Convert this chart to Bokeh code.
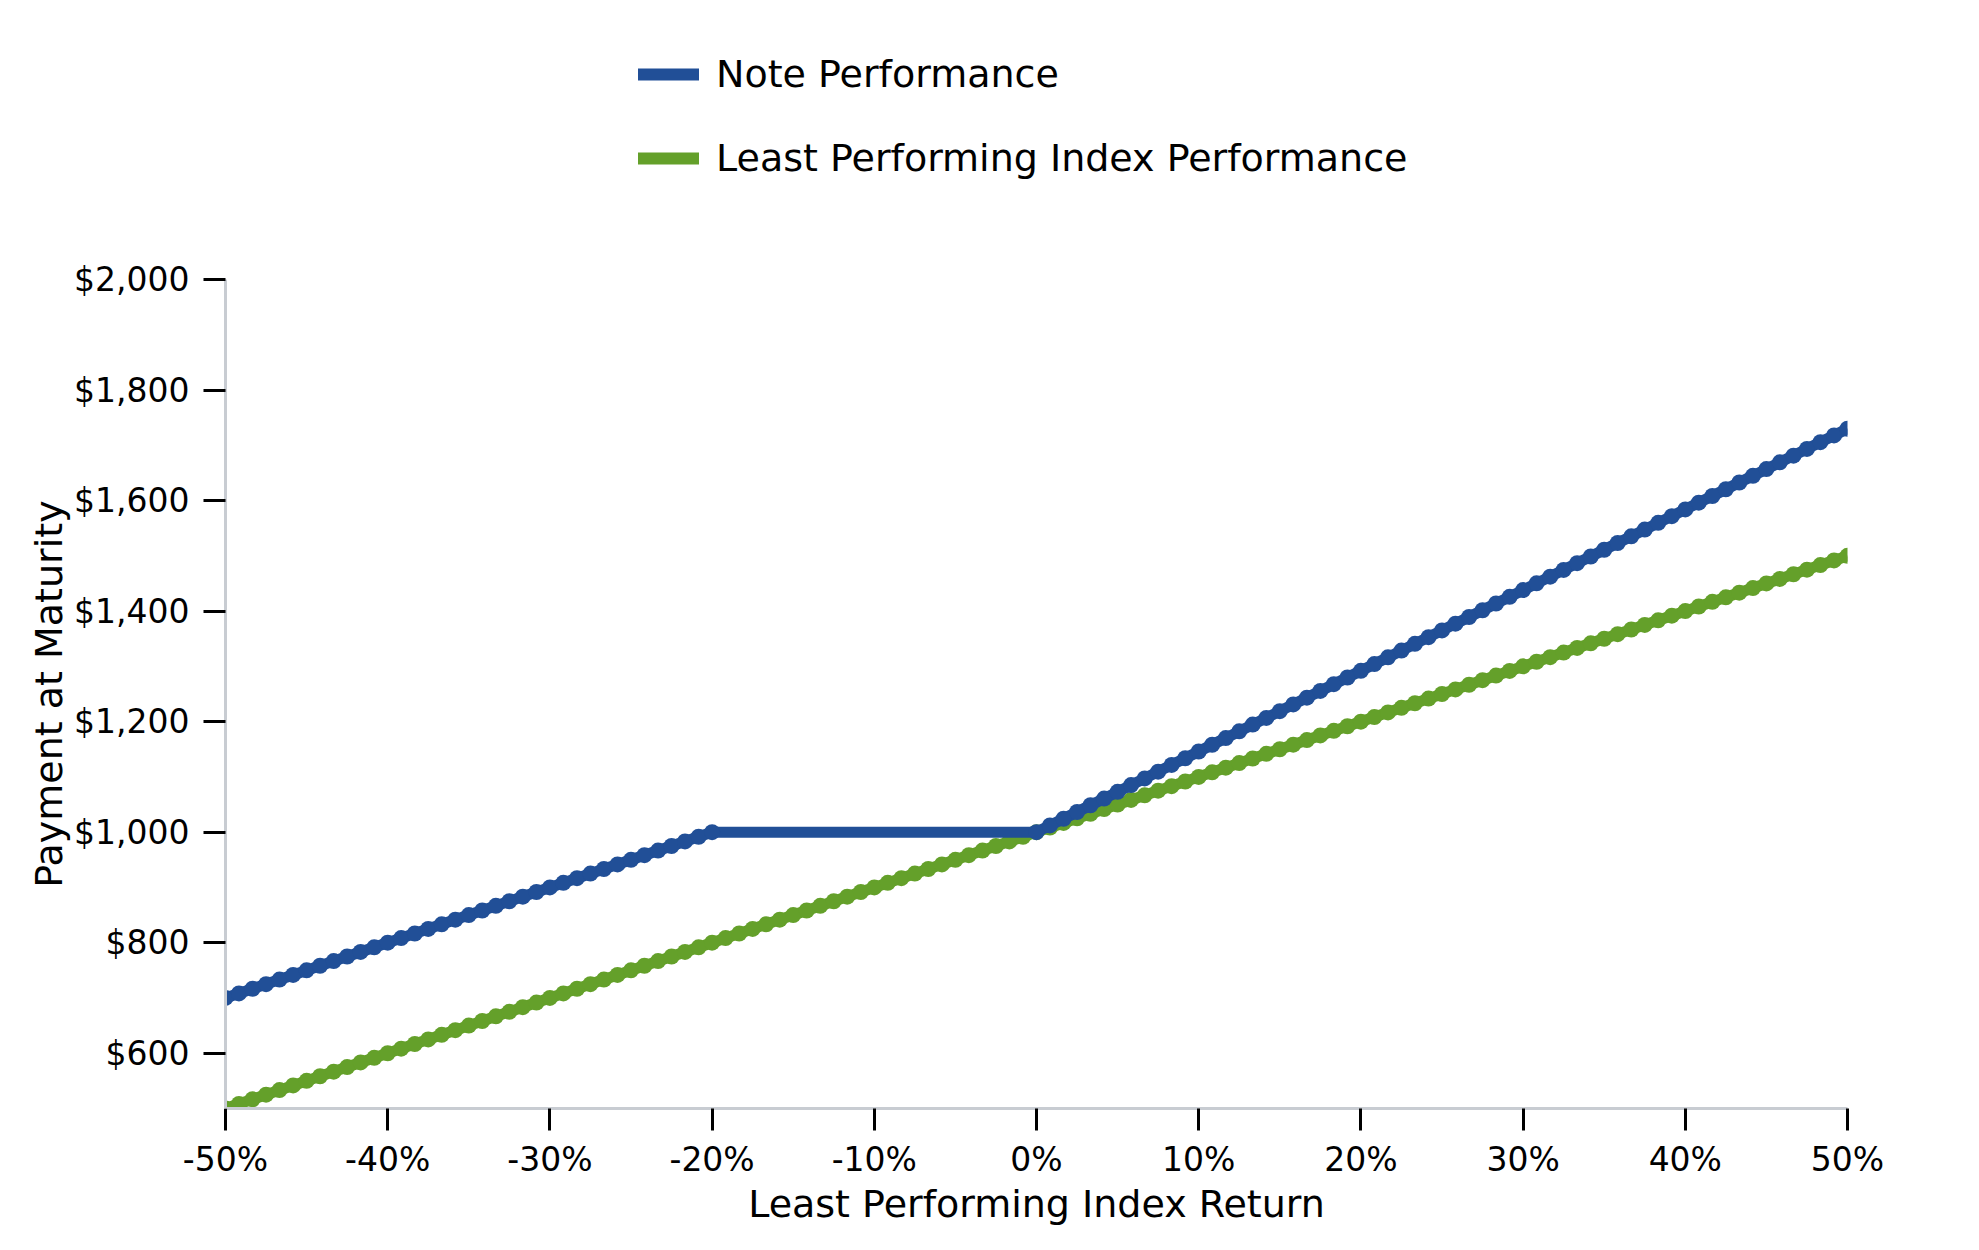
from bokeh.plotting import figure
from bokeh.layouts import column
from bokeh.models import (Range1d, FixedTicker, NumeralTickFormatter, PrintfTickFormatter,
                          Legend, LegendItem, ColumnDataSource)
from bokeh.embed import file_html
from bokeh.resources import INLINE

# Least performing index return (%)
index_return = [
    -50, -49.17, -48.33, -47.5, -46.67, -45.83, -45, -44.17, -43.33, -42.5, -41.67, -40.83,
    -40, -39.17, -38.33, -37.5, -36.67, -35.83, -35, -34.17, -33.33, -32.5, -31.67, -30.83,
    -30, -29.17, -28.33, -27.5, -26.67, -25.83, -25, -24.17, -23.33, -22.5, -21.67, -20.83,
    -20, -19.17, -18.33, -17.5, -16.67, -15.83, -15, -14.17, -13.33, -12.5, -11.67, -10.83,
    -10, -9.17, -8.33, -7.5, -6.67, -5.83, -5, -4.17, -3.33, -2.5, -1.67, -0.83,
    0, 0.83, 1.67, 2.5, 3.33, 4.17, 5, 5.83, 6.67, 7.5, 8.33, 9.17,
    10, 10.83, 11.67, 12.5, 13.33, 14.17, 15, 15.83, 16.67, 17.5, 18.33, 19.17,
    20, 20.83, 21.67, 22.5, 23.33, 24.17, 25, 25.83, 26.67, 27.5, 28.33, 29.17,
    30, 30.83, 31.67, 32.5, 33.33, 34.17, 35, 35.83, 36.67, 37.5, 38.33, 39.17,
    40, 40.83, 41.67, 42.5, 43.33, 44.17, 45, 45.83, 46.67, 47.5, 48.33, 49.17,
    50,
]

# Least Performing Index Performance ($)
index_payment = [
    500, 508.3, 516.7, 525, 533.3, 541.7, 550, 558.3, 566.7, 575, 583.3, 591.7,
    600, 608.3, 616.7, 625, 633.3, 641.7, 650, 658.3, 666.7, 675, 683.3, 691.7,
    700, 708.3, 716.7, 725, 733.3, 741.7, 750, 758.3, 766.7, 775, 783.3, 791.7,
    800, 808.3, 816.7, 825, 833.3, 841.7, 850, 858.3, 866.7, 875, 883.3, 891.7,
    900, 908.3, 916.7, 925, 933.3, 941.7, 950, 958.3, 966.7, 975, 983.3, 991.7,
    1000, 1008.3, 1016.7, 1025, 1033.3, 1041.7, 1050, 1058.3, 1066.7, 1075, 1083.3, 1091.7,
    1100, 1108.3, 1116.7, 1125, 1133.3, 1141.7, 1150, 1158.3, 1166.7, 1175, 1183.3, 1191.7,
    1200, 1208.3, 1216.7, 1225, 1233.3, 1241.7, 1250, 1258.3, 1266.7, 1275, 1283.3, 1291.7,
    1300, 1308.3, 1316.7, 1325, 1333.3, 1341.7, 1350, 1358.3, 1366.7, 1375, 1383.3, 1391.7,
    1400, 1408.3, 1416.7, 1425, 1433.3, 1441.7, 1450, 1458.3, 1466.7, 1475, 1483.3, 1491.7,
    1500,
]

# Note points (%): the flat stretch between -20% and 0% is drawn as a plain line
note_return = [
    -50, -49.17, -48.33, -47.5, -46.67, -45.83, -45, -44.17, -43.33, -42.5, -41.67, -40.83,
    -40, -39.17, -38.33, -37.5, -36.67, -35.83, -35, -34.17, -33.33, -32.5, -31.67, -30.83,
    -30, -29.17, -28.33, -27.5, -26.67, -25.83, -25, -24.17, -23.33, -22.5, -21.67, -20.83,
    -20,
    0, 0.83, 1.67, 2.5, 3.33, 4.17, 5, 5.83, 6.67, 7.5, 8.33, 9.17,
    10, 10.83, 11.67, 12.5, 13.33, 14.17, 15, 15.83, 16.67, 17.5, 18.33, 19.17,
    20, 20.83, 21.67, 22.5, 23.33, 24.17, 25, 25.83, 26.67, 27.5, 28.33, 29.17,
    30, 30.83, 31.67, 32.5, 33.33, 34.17, 35, 35.83, 36.67, 37.5, 38.33, 39.17,
    40, 40.83, 41.67, 42.5, 43.33, 44.17, 45, 45.83, 46.67, 47.5, 48.33, 49.17,
    50,
]

# Note Performance ($)
note_payment = [
    700, 708.3, 716.7, 725, 733.3, 741.7, 750, 758.3, 766.7, 775, 783.3, 791.7,
    800, 808.3, 816.7, 825, 833.3, 841.7, 850, 858.3, 866.7, 875, 883.3, 891.7,
    900, 908.3, 916.7, 925, 933.3, 941.7, 950, 958.3, 966.7, 975, 983.3, 991.7,
    1000,
    1000, 1012.2, 1024.3, 1036.5, 1048.7, 1060.8, 1073, 1085.2, 1097.3, 1109.5, 1121.7, 1133.8,
    1146, 1158.2, 1170.3, 1182.5, 1194.7, 1206.8, 1219, 1231.2, 1243.3, 1255.5, 1267.7, 1279.8,
    1292, 1304.2, 1316.3, 1328.5, 1340.7, 1352.8, 1365, 1377.2, 1389.3, 1401.5, 1413.7, 1425.8,
    1438, 1450.2, 1462.3, 1474.5, 1486.7, 1498.8, 1511, 1523.2, 1535.3, 1547.5, 1559.7, 1571.8,
    1584, 1596.2, 1608.3, 1620.5, 1632.7, 1644.8, 1657, 1669.2, 1681.3, 1693.5, 1705.7, 1717.8,
    1730,
]

x_ticks = [-50, -40, -30, -20, -10, 0, 10, 20, 30, 40, 50]
y_ticks = [600, 800, 1000, 1200, 1400, 1600, 1800, 2000]

series_labels = ["Note Performance", "Least Performing Index Performance"]
BLUE = "#214f97"
GREEN = "#64a02a"
FONT = "DejaVu Sans"

LEG_H = 200

# ---- legend strip (its own figure, above the chart; frames are aligned) ----
lf = figure(width=1960, height=LEG_H, output_backend="svg", toolbar_location=None,
            x_axis_type=None, y_axis_type=None, x_range=Range1d(0, 1), y_range=Range1d(0, 1),
            min_border=0)
lf.outline_line_color = None
lf.grid.visible = False
# renderers kept outside the visible range: they only lend their style to the legend
leg_note = lf.line([5, 6], [5, 5], line_color=BLUE, line_width=12, line_cap="round")
leg_idx = lf.line([5, 6], [5, 5], line_color=GREEN, line_width=12, line_cap="round")
legend = Legend(items=[LegendItem(label=series_labels[0], renderers=[leg_note]),
                       LegendItem(label=series_labels[1], renderers=[leg_idx])],
                location=(413, 20), orientation="vertical",
                glyph_width=61, glyph_height=44, label_height=44, spacing=40,
                label_standoff=17, padding=0, margin=0,
                border_line_color=None, background_fill_alpha=0,
                label_text_font=FONT, label_text_font_size="38px",
                label_text_color="black")
lf.add_layout(legend, "center")

# ---- main chart ----
idx_src = ColumnDataSource(dict(x=index_return, y=index_payment))
note_src = ColumnDataSource(dict(x=note_return, y=note_payment))

p = figure(width=1960, height=1234 - LEG_H, output_backend="svg", toolbar_location=None,
           x_range=Range1d(-50, 50), y_range=Range1d(500, 2000),
           min_border_left=225, min_border_right=113, min_border_top=279 - LEG_H,
           min_border_bottom=126)
p.outline_line_color = None
p.grid.visible = False
p.background_fill_color = "white"
p.border_fill_color = "white"

# Index line drawn first, note on top
p.line("x", "y", source=idx_src, line_color=GREEN, line_width=11)
p.scatter("x", "y", source=idx_src, size=16, fill_color=GREEN, line_color=None)
p.line("x", "y", source=note_src, line_color=BLUE, line_width=11)
p.scatter("x", "y", source=note_src, size=16, fill_color=BLUE, line_color=None)

for ax in (p.xaxis[0], p.yaxis[0]):
    ax.axis_line_color = "#c8ccd2"
    ax.axis_line_width = 3
    ax.major_tick_line_color = "black"
    ax.major_tick_line_width = 3
    ax.major_tick_in = 0
    ax.major_tick_out = 22
    ax.minor_tick_line_color = None
    ax.major_label_text_font = FONT
    ax.major_label_text_color = "black"
    ax.axis_label_text_font = FONT
    ax.axis_label_text_font_style = "normal"
    ax.axis_label_text_color = "black"
    ax.axis_label_text_font_size = "38px"

p.xaxis[0].ticker = FixedTicker(ticks=x_ticks)
p.xaxis[0].formatter = PrintfTickFormatter(format="%d%%")
p.xaxis[0].major_label_text_font_size = "33px"
p.xaxis[0].major_label_standoff = 9
p.xaxis[0].axis_label = "Least Performing Index Return"
p.xaxis[0].axis_label_standoff = 0

p.yaxis[0].ticker = FixedTicker(ticks=y_ticks)
p.yaxis[0].formatter = NumeralTickFormatter(format="$0,0")
p.yaxis[0].major_label_text_font_size = "33px"
p.yaxis[0].major_label_standoff = 14
p.yaxis[0].axis_label = "Payment at Maturity"
p.yaxis[0].axis_label_standoff = 0

layout = column(lf, p, spacing=0)
open("out.html", "w").write(file_html(layout, INLINE))
